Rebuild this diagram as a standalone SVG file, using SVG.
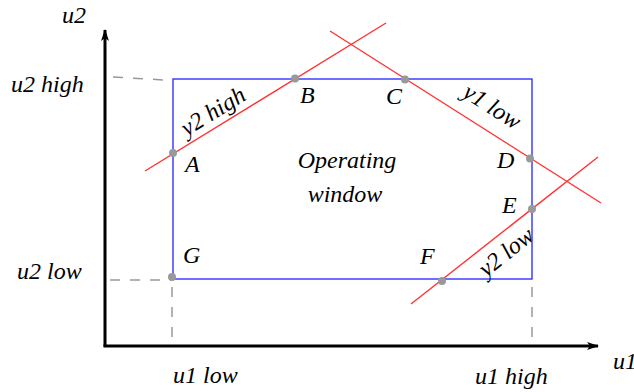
<svg xmlns="http://www.w3.org/2000/svg" width="634" height="392" viewBox="0 0 634 392">
<style>
text{font-family:"Liberation Serif","DejaVu Serif","Times New Roman",serif;font-style:italic;font-size:24px;fill:#000}
.axis{stroke:#000;stroke-width:3;fill:none}
.dash{stroke:#999;stroke-width:1.5;stroke-dasharray:10,10;fill:none}
.win{stroke:#3333ff;stroke-width:1.4;fill:none}
.con{stroke:#ff3333;stroke-width:1.4;fill:none}
.pt{fill:#999}
</style>
<defs>
<marker id="ah" viewBox="0 0 12 8" refX="11" refY="4" markerWidth="12" markerHeight="8" markerUnits="userSpaceOnUse" orient="auto">
<path d="M0,0 L12,4 L0,8 L3,4 Z" fill="#000"/>
</marker>
</defs>
<g id="axes">
<path class="axis" d="M105,346.5 L105,30" marker-end="url(#ah)"/>
<path class="axis" d="M103.5,346 L598,346" marker-end="url(#ah)"/>
<text x="62" y="23">u2</text>
<text x="613" y="369">u1</text>
</g>
<g id="guides">
<path class="dash" d="M113,77 L165,80"/>
<path class="dash" d="M110,280 L172,280"/>
<path class="dash" d="M172,287 L172,338"/>
<path class="dash" d="M532,287 L532,340"/>
<text x="11" y="92">u2 high</text>
<text x="17" y="279">u2 low</text>
<text x="173" y="383">u1 low</text>
<text x="475" y="384">u1 high</text>
</g>
<g id="window">
<rect class="win" x="173" y="79" width="359" height="200"/>
<text x="347" y="168" text-anchor="middle">Operating</text>
<text x="345" y="202" text-anchor="middle">window</text>
</g>
<g id="connectors">
<path id="y2high" class="con" d="M145,171 L386,23"/>
<path id="y1low" class="con" d="M330,31 L601,203"/>
<path id="y2low" class="con" d="M411,304 L598,157"/>
</g>
<g id="constraint-labels">
<text transform="translate(217,118) rotate(-31.6)" text-anchor="middle">y2 high</text>
<text transform="translate(488,113) rotate(32.6)" text-anchor="middle">y1 low</text>
<text transform="translate(511,258) rotate(-38.7)" text-anchor="middle">y2 low</text>
</g>
<g id="A"><circle class="pt" cx="173" cy="153" r="4"/><text x="185" y="172">A</text></g>
<g id="B"><circle class="pt" cx="295" cy="78.5" r="4"/><text x="300" y="103">B</text></g>
<g id="C"><circle class="pt" cx="405" cy="79.5" r="4"/><text x="386" y="104">C</text></g>
<g id="D"><circle class="pt" cx="530" cy="158.5" r="4"/><text x="497" y="168">D</text></g>
<g id="E"><circle class="pt" cx="532" cy="209" r="4"/><text x="502" y="213">E</text></g>
<g id="F"><circle class="pt" cx="442" cy="281" r="4"/><text x="420" y="264">F</text></g>
<g id="G"><circle class="pt" cx="172" cy="277" r="4"/><text x="183" y="263">G</text></g>
</svg>
